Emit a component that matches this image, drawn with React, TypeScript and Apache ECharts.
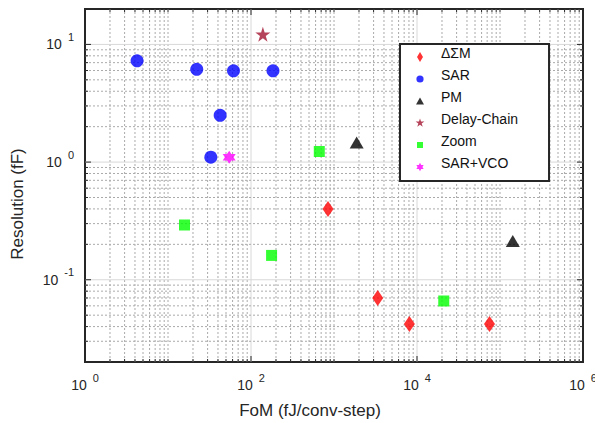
import React, { useEffect, useRef } from 'react';
import * as echarts from 'echarts';

// ---- axis ranges ----
const xMin = 1;
const xMax = 1e6;
const yMin = 0.02;
const yMax = 20;

// ---- data [FoM (fJ/conv-step), Resolution (fF)] ----
const dsmData = [[846, 0.4], [3360, 0.07], [8100, 0.042], [74700, 0.042]];
const sarData = [[4.24, 7.26], [22.2, 6.14], [61.5, 5.97], [184, 5.97], [42.5, 2.5], [32.8, 1.1]];
const pmData = [[1875, 1.47], [142600, 0.214]];
const delayChainData = [[139, 12.2]];
const zoomData = [[665, 1.23], [15.8, 0.292], [177, 0.161], [21000, 0.066]];
const sarVcoData = [[54.6, 1.1]];

const seriesNames = ['ΔΣM', 'SAR', 'PM', 'Delay-Chain', 'Zoom', 'SAR+VCO'];
const seriesColors = ['#ff0000', '#0000ff', '#000000', '#a2142f', '#00ff00', '#ff00ff'];

const xTitle = 'FoM (fJ/conv-step)';
const yTitle = 'Resolution (fF)';

const FONT = 'Liberation Sans';
const TXT = '#262626';

function starPts(points: number, inner: number, R: number): string {
  const pts: string[] = [];
  for (let i = 0; i < points * 2; i++) {
    const r = i % 2 === 0 ? R : R * inner;
    const a = -Math.PI / 2 + (i * Math.PI) / points;
    pts.push(`${(r * Math.cos(a)).toFixed(3)} ${(r * Math.sin(a)).toFixed(3)}`);
  }
  return 'M' + pts.join(' L') + ' Z';
}
const pentagram = 'path://' + starPts(5, 0.382, 10);
const hexagram = 'path://' + starPts(6, 0.577, 10);

// legend icons: invisible bound points (32 x 18 box) put the visible mark a little below the text centre
const iconBounds = 'M-16 -13 M16 5 ';
const legendIcons = [
  'path://' + iconBounds + 'M0 -5 L3 0 L0 5 L-3 0 Z',
  'path://' + iconBounds + 'M-3.6 0 A3.6 3.6 0 1 0 3.6 0 A3.6 3.6 0 1 0 -3.6 0 Z',
  'path://' + iconBounds + 'M0 -3.5 L4 3.5 L-4 3.5 Z',
  'path://' + iconBounds + starPts(5, 0.382, 4.6),
  'path://' + iconBounds + 'M-3 -3 L3 -3 L3 3 L-3 3 Z',
  'path://' + iconBounds + starPts(6, 0.577, 4.2),
];

// grid line positions (log decades and their minor subdivisions)
const xGridLines: number[][] = [];
for (let e = 0; e < 6; e++) {
  for (let m = 1; m <= 9; m++) {
    const v = m * Math.pow(10, e);
    if (v <= xMin) continue;
    xGridLines.push([v, 1, m === 1 && e % 2 === 0 ? 1 : 0]);
  }
}
const yGridLines: number[][] = [];
for (let e = -2; e <= 1; e++) {
  for (let m = 1; m <= 9; m++) {
    const v = m * Math.pow(10, e);
    if (v <= yMin * 1.0001 || v >= yMax * 0.9999) continue;
    yGridLines.push([10, v, m === 1 ? 1 : 0]);
  }
}

const minorStyle = { stroke: '#aaaaaa', lineWidth: 1, lineDash: [2, 2] };
const majorStyle = { stroke: '#d8d8d8', lineWidth: 1 };
const tickStyle = { stroke: TXT, lineWidth: 1 };

const labelRich = {
  b: { fontFamily: FONT, fontSize: 14, lineHeight: 26, color: TXT, verticalAlign: 'middle' },
  e: { fontFamily: FONT, fontSize: 11, lineHeight: 10, color: TXT, verticalAlign: 'top', padding: [0, 0, 0, 6] },
};

export default function App() {
  const ref = useRef<HTMLDivElement>(null);
  useEffect(() => {
    if (!ref.current) return;
    const chart = echarts.init(ref.current, undefined, { renderer: 'svg' });
    const option: any = {
      animation: false,
      backgroundColor: '#ffffff',
      textStyle: { fontFamily: FONT },
      grid: {
        left: 85, top: 9, width: 498, height: 353,
        show: true, borderColor: TXT, borderWidth: 2, backgroundColor: 'transparent',
        containLabel: false, outerBoundsMode: 'none',
      },
      xAxis: {
        type: 'log', logBase: 10, min: xMin, max: xMax,
        axisLine: { show: false }, axisTick: { show: false }, splitLine: { show: false },
        axisLabel: {
          interval: 0, showMinLabel: true, showMaxLabel: true, margin: 10,
          fontFamily: FONT, fontSize: 14, color: TXT,
          formatter: (v: number) => {
            const ex = Math.log10(v);
            const r = Math.round(ex);
            if (Math.abs(ex - r) > 1e-6 || r % 2 !== 0) return '';
            return `{b|10}{e|${r}}`;
          },
          rich: labelRich,
        },
      },
      yAxis: {
        type: 'log', logBase: 10, min: yMin, max: yMax,
        axisLine: { show: false }, axisTick: { show: false }, splitLine: { show: false },
        axisLabel: {
          interval: 0, showMinLabel: true, showMaxLabel: true, margin: 11,
          fontFamily: FONT, fontSize: 14, color: TXT,
          formatter: (v: number) => {
            const ex = Math.log10(v);
            const r = Math.round(ex);
            if (Math.abs(ex - r) > 1e-6) return '';
            return `{b|10}{e|${r}}`;
          },
          rich: labelRich,
        },
      },
      legend: {
        orient: 'vertical', left: 400, top: 44,
        itemWidth: 32, itemHeight: 18, itemGap: 4,
        padding: [0, 31, 9, 4],
        backgroundColor: '#ffffff', borderColor: TXT, borderWidth: 2,
        textStyle: { fontFamily: FONT, fontSize: 14, color: '#111111', lineHeight: 16 },
        selectedMode: false,
        data: seriesNames.map((name, i) => ({ name, icon: legendIcons[i] })),
      },
      graphic: [
        {
          type: 'text', x: 310, y: 410, z: 10,
          style: { text: xTitle, fontFamily: FONT, fontSize: 17, fill: TXT, textAlign: 'center', textVerticalAlign: 'middle', align: 'center', verticalAlign: 'middle' },
        },
        {
          type: 'text', x: 17, y: 204, rotation: Math.PI / 2, z: 10,
          style: { text: yTitle, fontFamily: FONT, fontSize: 17, fill: TXT, textAlign: 'center', textVerticalAlign: 'middle', align: 'center', verticalAlign: 'middle' },
        },
      ],
      series: [
        {
          type: 'custom', silent: true, z: 1, data: xGridLines, encode: { x: 0, y: 1 },
          renderItem: (_p: any, api: any) => {
            const v = api.value(0);
            const major = api.value(2) === 1;
            const b = api.coord([v, yMin]);
            const t = api.coord([v, yMax]);
            const len = major ? 6 : 3;
            return {
              type: 'group',
              children: [
                { type: 'line', shape: { x1: b[0], y1: b[1], x2: t[0], y2: t[1] }, style: major ? majorStyle : minorStyle },
                { type: 'line', shape: { x1: b[0], y1: b[1], x2: b[0], y2: b[1] - len }, style: tickStyle },
                { type: 'line', shape: { x1: t[0], y1: t[1], x2: t[0], y2: t[1] + len }, style: tickStyle },
              ],
            };
          },
        },
        {
          type: 'custom', silent: true, z: 1, data: yGridLines, encode: { x: 0, y: 1 },
          renderItem: (_p: any, api: any) => {
            const v = api.value(1);
            const major = api.value(2) === 1;
            const l = api.coord([xMin, v]);
            const r = api.coord([xMax, v]);
            const len = major ? 6 : 3;
            return {
              type: 'group',
              children: [
                { type: 'line', shape: { x1: l[0], y1: l[1], x2: r[0], y2: r[1] }, style: major ? majorStyle : minorStyle },
                { type: 'line', shape: { x1: l[0], y1: l[1], x2: l[0] + len, y2: l[1] }, style: tickStyle },
                { type: 'line', shape: { x1: r[0], y1: r[1], x2: r[0] - len, y2: r[1] }, style: tickStyle },
              ],
            };
          },
        },
        { name: seriesNames[0], type: 'scatter', z: 3, data: dsmData, symbol: 'diamond', symbolSize: [11, 16], itemStyle: { color: seriesColors[0] } },
        { name: seriesNames[1], type: 'scatter', z: 3, data: sarData, symbol: 'circle', symbolSize: 13, itemStyle: { color: seriesColors[1] } },
        { name: seriesNames[2], type: 'scatter', z: 3, data: pmData, symbol: 'triangle', symbolSize: [14, 12], itemStyle: { color: seriesColors[2] } },
        { name: seriesNames[3], type: 'scatter', z: 3, data: delayChainData, symbol: pentagram, symbolSize: 15, itemStyle: { color: seriesColors[3] } },
        { name: seriesNames[4], type: 'scatter', z: 3, data: zoomData, symbol: 'rect', symbolSize: 11, itemStyle: { color: seriesColors[4] } },
        { name: seriesNames[5], type: 'scatter', z: 3, data: sarVcoData, symbol: hexagram, symbolSize: 13, itemStyle: { color: seriesColors[5] } },
      ],
    };
    chart.setOption(option);
    return () => chart.dispose();
  }, []);
  return <div ref={ref} style={{ width: 595, height: 423, position: 'absolute', left: 0, top: 0 }} />;
}
